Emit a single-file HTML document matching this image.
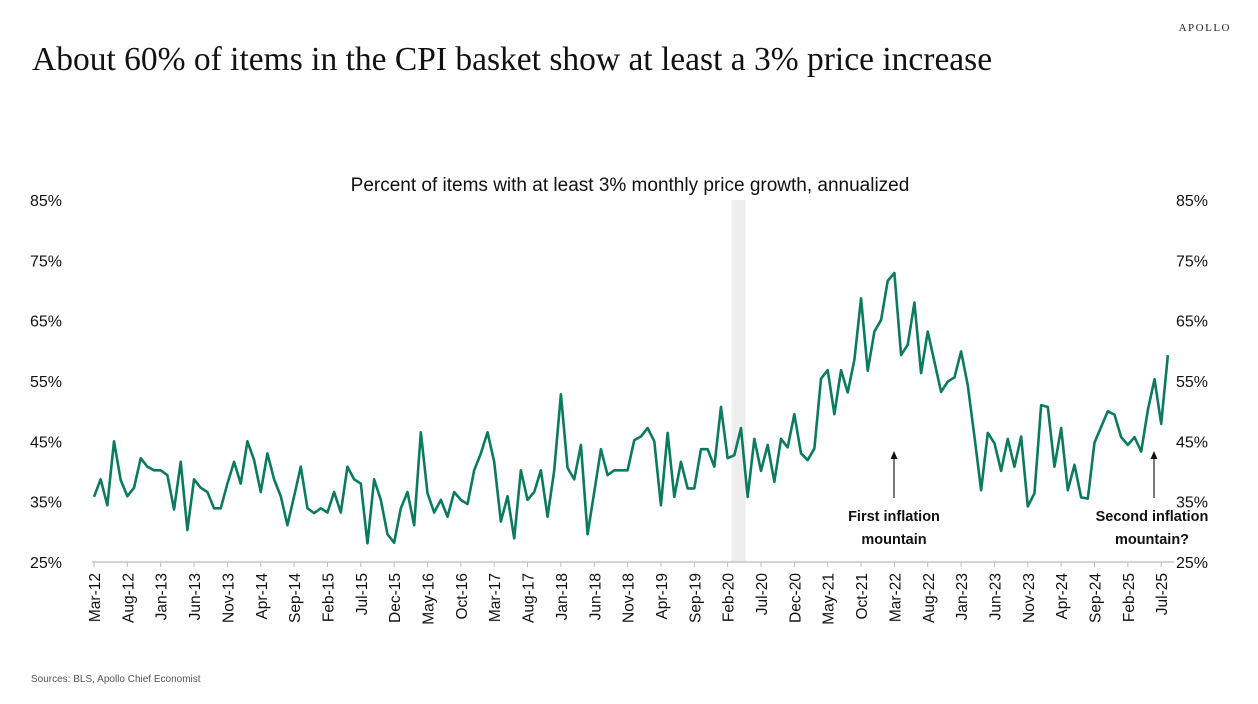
<!DOCTYPE html>
<html><head><meta charset="utf-8"><style>
body{margin:0;background:#fff;width:1258px;height:699px;overflow:hidden;font-family:"Liberation Sans",sans-serif}
</style></head><body>
<svg width="1258" height="699" viewBox="0 0 1258 699">
<text x="1231" y="31" text-anchor="end" font-family="Liberation Serif,serif" font-size="11" letter-spacing="1.5" fill="#222">APOLLO</text>
<text x="32" y="70" font-family="Liberation Serif,serif" font-size="33.5" fill="#111">About 60% of items in the CPI basket show at least a 3% price increase</text>
<text x="630" y="191" text-anchor="middle" font-size="19" fill="#111">Percent of items with at least 3% monthly price growth, annualized</text>
<g id="plot"></g>
<text x="31" y="682" font-size="10" fill="#555">Sources: BLS, Apollo Chief Economist</text>
</svg>
<script>
const months=["Jan","Feb","Mar","Apr","May","Jun","Jul","Aug","Sep","Oct","Nov","Dec"];
const values=[35.8,38.7,34.4,45.0,38.6,35.9,37.3,42.2,40.8,40.2,40.2,39.4,33.7,41.6,30.3,38.7,37.3,36.6,33.9,33.9,38.0,41.6,38.0,45.0,41.9,36.6,43.0,38.7,35.9,31.1,35.9,40.8,33.9,33.1,33.9,33.2,36.6,33.2,40.8,38.7,38.0,28.1,38.7,35.3,29.6,28.2,33.9,36.6,31.1,46.5,36.4,33.2,35.3,32.5,36.6,35.3,34.6,40.2,43.0,46.5,41.6,31.7,35.9,28.9,40.2,35.3,36.6,40.2,32.5,40.2,52.8,40.6,38.7,44.4,29.6,36.6,43.7,39.4,40.2,40.2,40.2,45.2,45.8,47.2,45.0,34.4,46.4,35.8,41.6,37.2,37.2,43.7,43.7,40.8,50.7,42.2,42.7,47.2,35.8,45.4,40.1,44.4,38.3,45.4,44.0,49.5,43.0,41.9,43.8,55.4,56.8,49.5,56.8,53.1,58.5,68.7,56.7,63.2,65.1,71.6,72.9,59.3,61.0,68.0,56.3,63.2,58.2,53.2,54.9,55.6,59.9,54.3,45.8,36.9,46.4,44.7,40.1,45.4,40.8,45.8,34.2,36.4,51.0,50.7,40.8,47.2,36.9,41.1,35.7,35.5,44.8,47.4,50.0,49.4,45.7,44.4,45.7,43.3,50.2,55.3,47.9,59.3];
const yTicks=[25,35,45,55,65,75,85];
const startYear=2012, startMonth=2;
const NS="http://www.w3.org/2000/svg";
const g=document.getElementById('plot');
const x=i=>94+i*6.67;
const y=v=>562-(v-25)*6.033;
function mk(t,a){const e=document.createElementNS(NS,t);for(const k in a)e.setAttribute(k,a[k]);g.appendChild(e);return e;}
let band=mk('rect',{x:x(95.6),y:200,width:x(97.7)-x(95.6),height:362,fill:'#efeeec'});


let ax=mk('line',{x1:92,y1:562,x2:1174,y2:562,stroke:'#bbb','stroke-width':1.2});


yTicks.forEach(v=>{
 let a=mk('text',{x:30,y:y(v)+6,'font-size':16,fill:'#111'});a.textContent=v+'%';
 
 
 let b=mk('text',{x:1176,y:y(v)+6,'font-size':16,fill:'#111'});b.textContent=v+'%';
 
 
});
for(let i=0;i<values.length;i+=5){
 const m=(startMonth+i)%12, yr=startYear+Math.floor((startMonth+i)/12);
 const lbl=months[m]+'-'+String(yr).slice(2);
 mk('line',{x1:x(i),y1:562,x2:x(i),y2:567,stroke:'#bbb'});
 let t=mk('text',{transform:`translate(${x(i)+6},573) rotate(-90)`,'text-anchor':'end','font-size':15.5,fill:'#111'});
 t.textContent=lbl;
 
 
}
let p=mk('polyline',{points:values.map((v,i)=>x(i)+','+y(v)).join(' '),fill:'none',stroke:'#0b7a5e','stroke-width':2.6,'stroke-linejoin':'round'});


function arrow(cx,y1,y2,name){
 let l=mk('line',{x1:cx,y1:y1,x2:cx,y2:y2+6,stroke:'#333','stroke-width':1.3});
 
 
 mk('polygon',{points:`${cx-3.5},${y2+8} ${cx+3.5},${y2+8} ${cx},${y2}`,fill:'#111'});
}
arrow(894,498,451,'arrow-first');
arrow(1154,498,451,'arrow-second');
[['First inflation',894,521],['mountain',894,544],['Second inflation',1152,521],['mountain?',1152,544]].forEach(a=>{
 let t=mk('text',{x:a[1],y:a[2],'text-anchor':'middle','font-size':14.5,'font-weight':'bold',fill:'#111'});
 t.textContent=a[0];
 
 
});
</script>
</body></html>
